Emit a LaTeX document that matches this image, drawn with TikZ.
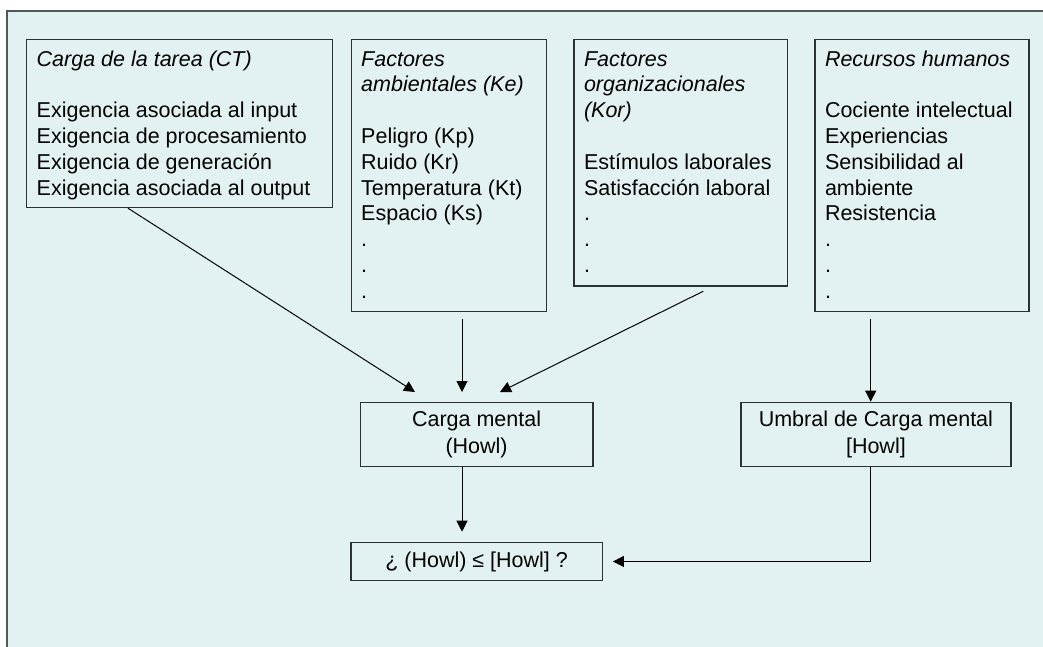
\documentclass[tikz,border=0pt]{standalone}
\usepackage{fontspec}
\setmainfont{Liberation Sans}
\usetikzlibrary{arrows.meta,calc}
\definecolor{panel}{HTML}{E2F1F1}
\definecolor{frameline}{HTML}{505858}
\definecolor{boxline}{HTML}{2C3232}
\begin{document}
\begin{tikzpicture}[x=1pt,y=-1pt,
  boxstyle/.style={draw=boxline, line width=1.2pt, rectangle, inner sep=0pt, anchor=north west},
  listtext/.style={anchor=base west, inner sep=0pt, text=black, font=\fontsize{21.5}{25.8}\selectfont},
  centerbox/.style={boxstyle, align=center, text=black, font=\fontsize{21.5}{26.5}\selectfont},
  arr/.style={draw=black, line width=1pt, -{Triangle[length=11pt,width=11pt]}}]
\useasboundingbox (0,0) rectangle (1043,646);
\clip (0,0) rectangle (1043,646);
\fill[white] (0,0) rectangle (1043,646);
% panel behind the diagram
\draw[frameline, line width=2pt, fill=panel] (7,11) rectangle (1070,680);

% upper boxes: factors
\node[boxstyle, minimum width=306pt, minimum height=168pt] (ct) at (26,39) {};
\node[listtext] (ct-t) at ($(ct.north west)+(10.5,27)$) {\parbox[t]{300pt}{\raggedright
  \textit{Carga de la tarea (CT)}\\[\baselineskip]
  Exigencia asociada al input\\
  Exigencia de procesamiento\\
  Exigencia de generación\\
  Exigencia asociada al output}};

\node[boxstyle, minimum width=195.5pt, minimum height=272pt] (ke) at (350.5,39) {};
\node[listtext] (ke-t) at ($(ke.north west)+(10.5,27)$) {\parbox[t]{190pt}{\raggedright
  \textit{Factores}\\
  \textit{ambientales (Ke)}\\[\baselineskip]
  Peligro (Kp)\\
  Ruido (Kr)\\
  Temperatura (Kt)\\
  Espacio (Ks)\\
  .\\
  .\\
  .}};

\node[boxstyle, minimum width=213.4pt, minimum height=246.3pt] (kor) at (573.3,39) {};
\node[listtext] (kor-t) at ($(kor.north west)+(10.5,27)$) {\parbox[t]{205pt}{\raggedright
  \textit{Factores}\\
  \textit{organizacionales}\\
  \textit{(Kor)}\\[\baselineskip]
  Estímulos laborales\\
  Satisfacción laboral\\
  .\\
  .\\
  .}};

\node[boxstyle, minimum width=214pt, minimum height=272pt] (rh) at (814.3,39) {};
\node[listtext] (rh-t) at ($(rh.north west)+(10.5,27)$) {\parbox[t]{205pt}{\raggedright
  \textit{Recursos humanos}\\[\baselineskip]
  Cociente intelectual\\
  Experiencias\\
  Sensibilidad al\\
  ambiente\\
  Resistencia\\
  .\\
  .\\
  .}};

% lower boxes
\node[centerbox, minimum width=232.6pt, minimum height=64.3pt] (carga) at (359.7,401.7)
  {Carga mental\\(Howl)};
\node[centerbox, minimum width=270pt, minimum height=64.3pt] (umbral) at (740.3,401.7)
  {Umbral de Carga mental\\{[Howl]}};
\node[centerbox, minimum width=251.4pt, minimum height=38.3pt] (question) at (350.3,541.7)
  {¿ (Howl) ≤ [Howl] ?};

% connectors
\draw[arr] ([xshift=102pt]ct.south west) -- ([xshift=55.3pt,yshift=9.7pt]carga.north west);
\draw[arr] ([xshift=111.5pt,yshift=-7pt]ke.south west) -- ([xshift=102.3pt,yshift=9.7pt]carga.north west);
\draw[arr] ([xshift=130pt,yshift=-4.7pt]kor.south west) -- ([xshift=140.3pt,yshift=9.7pt]carga.north west);
\draw[arr] ([xshift=56.4pt,yshift=-7pt]rh.south west) -- ([xshift=130.4pt]umbral.north west);
\draw[arr] ([xshift=102.3pt]carga.south west) -- ([xshift=111.7pt,yshift=10pt]question.north west);
\draw[arr] ([xshift=130.4pt]umbral.south west) |- ([xshift=10pt]question.east);
\end{tikzpicture}
\end{document}
